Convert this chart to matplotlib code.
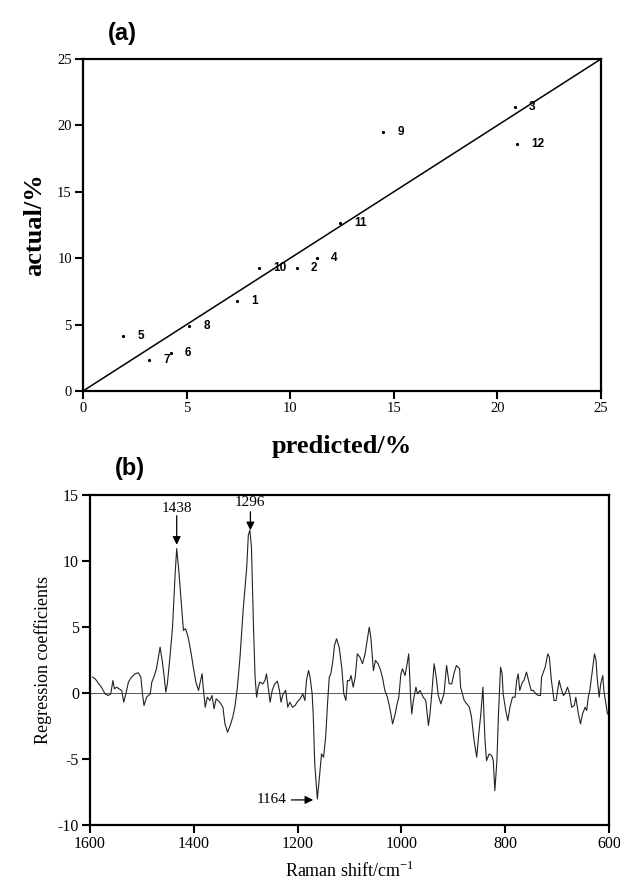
import matplotlib
matplotlib.use("Agg")
import matplotlib.pyplot as plt

plt.rcParams["axes.unicode_minus"] = False

# ---------------- Panel (a) data ----------------
sample_ids = ["5", "7", "6", "8", "1", "10", "2", "4", "11", "9", "3", "12"]
predicted = [1.95, 3.19, 4.23, 5.13, 7.45, 8.51, 10.33, 11.28, 12.40, 14.49, 20.85, 20.96]
actual = [4.14, 2.33, 2.88, 4.89, 6.75, 9.28, 9.26, 9.99, 12.63, 19.53, 21.41, 18.58]
ideal_line = [0, 25]
a_ticks = [0, 5, 10, 15, 20, 25]

# ---------------- Panel (b) data ----------------
raman_shift = [1595, 1590, 1584, 1578, 1571, 1565, 1560, 1556, 1553, 1549, 1544, 1539, 1535, 1531,
               1526, 1520, 1513, 1507, 1502, 1499, 1496, 1491, 1484, 1481, 1477, 1472, 1465, 1461,
               1457, 1454, 1451, 1446, 1441, 1436, 1433, 1429, 1423, 1420, 1416, 1411, 1405, 1401,
               1396, 1391, 1387, 1384, 1382, 1378, 1374, 1369, 1365, 1361, 1357, 1350, 1344, 1340,
               1335, 1330, 1325, 1321, 1316, 1311, 1305, 1298, 1295, 1292, 1289, 1285, 1282, 1279,
               1276, 1273, 1267, 1263, 1260, 1256, 1253, 1249, 1244, 1239, 1235, 1232, 1228, 1223,
               1219, 1215, 1210, 1205, 1201, 1195, 1190, 1186, 1183, 1179, 1176, 1172, 1170, 1167,
               1162, 1158, 1154, 1150, 1146, 1142, 1139, 1136, 1132, 1129, 1125, 1120, 1115, 1111,
               1107, 1104, 1100, 1097, 1093, 1089, 1085, 1080, 1075, 1070, 1066, 1062, 1059, 1054,
               1050, 1045, 1040, 1036, 1032, 1027, 1022, 1017, 1012, 1009, 1005, 1001, 998, 993,
               989, 986, 982, 980, 977, 972, 969, 964, 958, 953, 948, 945, 941, 937, 933, 929, 924,
               918, 913, 908, 903, 899, 894, 888, 886, 879, 874, 869, 865, 860, 855, 851, 847, 843,
               839, 836, 831, 826, 823, 820, 816, 813, 809, 806, 804, 799, 795, 791, 786, 781, 778,
               775, 772, 767, 764, 759, 755, 750, 746, 741, 736, 732, 730, 723, 718, 715, 711, 706,
               702, 696, 693, 688, 685, 680, 676, 672, 667, 664, 659, 655, 651, 646, 643, 640, 637,
               633, 628, 625, 623, 619, 616, 612, 610, 606, 603]
coefficients = [1.19, 1.06, 0.73, 0.43, -0.08, -0.20, -0.08, 0.93, 0.30, 0.43, 0.30, 0.18, -0.71, -0.08,
                0.81, 1.19, 1.44, 1.52, 1.19, -0.08, -0.96, -0.33, -0.08, 0.81, 1.19, 1.82, 3.46, 2.45,
                1.19, 0.05, 0.68, 2.70, 4.97, 9.02, 10.91, 9.27, 6.24, 4.72, 4.85, 4.22, 2.95, 1.94,
                0.81, 0.18, 0.93, 1.44, 0.43, -1.09, -0.33, -0.58, -0.20, -1.21, -0.45, -0.71, -1.09, -2.35,
                -2.98, -2.47, -1.84, -1.09, 0.43, 2.70, 6.24, 9.52, 11.92, 12.30, 11.04, 4.97, 1.19, -0.33,
                0.43, 0.81, 0.68, 0.93, 1.44, 0.18, -0.71, 0.18, 0.68, 0.88, 0.18, -0.71, -0.08, 0.18,
                -1.09, -0.71, -1.09, -0.96, -0.71, -0.45, -0.08, -0.58, 0.93, 1.69, 1.19, -0.08, -1.59, -5.38,
                -8.03, -6.39, -4.62, -4.87, -3.36, -0.58, 1.19, 1.44, 2.45, 3.59, 4.09, 3.46, 1.94, -0.08,
                -0.58, 0.93, 0.93, 1.31, 0.43, 1.19, 2.95, 2.70, 2.20, 2.95, 3.96, 4.97, 4.22, 1.69,
                2.45, 2.20, 1.69, 1.06, 0.18, -0.33, -1.21, -2.35, -1.59, -0.96, -0.33, 1.44, 1.82, 1.31,
                2.20, 2.95, -0.58, -1.59, -0.58, 0.43, -0.08, 0.18, -0.33, -0.58, -2.47, -1.59, 0.18, 2.20, 1.19, -0.20, -0.83,
                -0.08, 2.07, 0.68, 0.68, 1.44, 2.07, 1.82, 0.43, -0.58, -0.83, -1.09, -1.84, -3.61, -4.87, -3.11, -1.59, 0.43,
                -3.61, -5.13, -4.62, -4.75, -5.13, -7.40, -5.13, -1.59, 1.94, 1.44, -0.08, -1.34, -2.10, -1.09, -0.33, -0.33, 0.93,
                1.44, 0.18, 0.81, 0.93, 1.57, 0.93, 0.18, 0.18, -0.08, -0.20, -0.20, 1.19, 1.94, 2.95, 2.70, 0.93, -0.58,
                -0.58, 0.93, 0.43, -0.20, -0.08, 0.43, -0.08, -1.09, -0.96, -0.33, -1.59, -2.35, -1.59, -1.09, -1.34, -0.33, 0.18,
                1.44, 2.95, 2.45, 1.19, -0.33, 0.68, 1.31, 0.18, -0.83, -1.59]
b_xticks = [1600, 1400, 1200, 1000, 800, 600]
b_yticks = [-10, -5, 0, 5, 10, 15]
peak_labels = ["1438", "1296", "1164"]

SERIF = ["Liberation Serif", "DejaVu Serif"]
NARROW = ["Liberation Sans Narrow", "Liberation Sans", "DejaVu Sans"]
SANS = ["Liberation Sans", "DejaVu Sans"]

fig = plt.figure(figsize=(6.2, 8.88), dpi=100)

# ---------------- Panel (a) ----------------
ax1 = fig.add_axes([0.1339, 0.5597, 0.8355, 0.3739])
ax1.plot(ideal_line, ideal_line, color="black", lw=1.1)
ax1.plot(predicted, actual, linestyle="none", marker="o", markersize=1.3, color="black")
for px, py, lab in zip(predicted, actual, sample_ids):
    ax1.annotate(lab, (px, py), xytext=(10, 0), textcoords="offset points",
                 ha="left", va="center", fontsize=8.5, fontweight="bold", family=SANS)
ax1.set_xlim(0, 25)
ax1.set_ylim(0, 25)
ax1.set_xticks(a_ticks)
ax1.set_yticks(a_ticks)
ax1.tick_params(direction="out", length=6, width=1.5, labelsize=10.5, pad=2)
for lab in ax1.get_xticklabels() + ax1.get_yticklabels():
    lab.set_family(SERIF)
for s in ax1.spines.values():
    s.set_linewidth(1.6)
ax1.set_xlabel("predicted/%", fontsize=19, fontweight="bold", family=SERIF, labelpad=14)
ax1.set_ylabel("actual/%", fontsize=19, fontweight="bold", family=SERIF, labelpad=8)
fig.text(0.197, 0.962, "(a)", fontsize=17, fontweight="bold", family=NARROW, ha="center", va="center")

# ---------------- Panel (b) ----------------
ax2 = fig.add_axes([0.1452, 0.0709, 0.8371, 0.3722])
ax2.axhline(0, color="#555555", lw=0.7)
ax2.plot(raman_shift, coefficients, color="#222222", lw=0.8)
ax2.set_xlim(1600, 600)
ax2.set_ylim(-10, 15)
ax2.set_xticks(b_xticks)
ax2.set_yticks(b_yticks)
ax2.tick_params(direction="out", length=6, width=1.5, labelsize=11.5, pad=2)
for lab in ax2.get_xticklabels() + ax2.get_yticklabels():
    lab.set_family(SERIF)
for s in ax2.spines.values():
    s.set_linewidth(1.6)
ax2.set_xlabel("Raman shift/cm$^{\\mathregular{-1}}$", fontsize=13, family=SERIF, labelpad=6)
ax2.set_ylabel("Regression coefficients", fontsize=13, family=SERIF, labelpad=4)
fig.text(0.210, 0.472, "(b)", fontsize=17, fontweight="bold", family=NARROW, ha="center", va="center")

arrow = dict(arrowstyle="-|>", color="black", lw=0.9, mutation_scale=12, shrinkA=0, shrinkB=0)
ax2.annotate("", xy=(1433, 11.2), xytext=(1433, 13.4), arrowprops=arrow)
ax2.text(1433, 13.95, peak_labels[0], ha="center", va="center", fontsize=11, family=SERIF)
ax2.annotate("", xy=(1291, 12.3), xytext=(1291, 13.7), arrowprops=arrow)
ax2.text(1291, 14.4, peak_labels[1], ha="center", va="center", fontsize=11, family=SERIF,
         clip_on=False)
ax2.annotate("", xy=(1170, -8.1), xytext=(1212, -8.1), arrowprops=arrow)
ax2.text(1222, -8.1, peak_labels[2], ha="right", va="center", fontsize=11, family=SERIF)

fig.savefig("out.png", dpi=100)
